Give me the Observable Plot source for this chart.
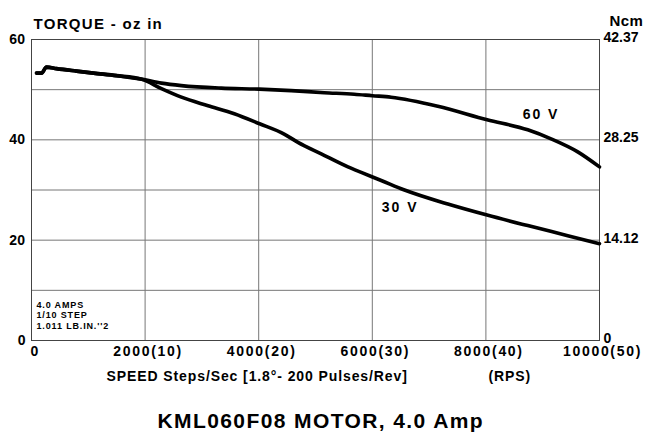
<!DOCTYPE html>
<html>
<head>
<meta charset="utf-8">
<script src="https://cdn.jsdelivr.net/npm/d3@7"></script>
<script src="https://cdn.jsdelivr.net/npm/@observablehq/plot@0.6"></script>
<style>
  html, body { margin: 0; padding: 0; background: #fff; }
</style>
</head>
<body>
<div id="chart"></div>
<script>
// ---- data ----
const speed60 = [88, 176, 264, 440, 792, 1090, 1495, 1935, 2287, 2639, 3342, 4010, 4573, 5154, 5682, 6000, 6330, 7154, 8021, 8737, 9147, 9617, 10000];
const torque60 = [53.3, 53.3, 54.5, 54.2, 53.7, 53.3, 52.8, 52.1, 51.3, 50.8, 50.3, 50.1, 49.8, 49.4, 49.1, 48.8, 48.5, 46.7, 44.0, 42.0, 40.2, 37.6, 34.6];
const speed30 = [88, 176, 264, 440, 792, 1090, 1495, 1935, 2287, 2639, 3108, 3571, 4016, 4456, 4691, 5101, 5571, 5805, 6157, 6567, 7330, 8021, 8737, 9441, 10000];
const torque30 = [53.3, 53.3, 54.5, 54.2, 53.7, 53.3, 52.8, 52.1, 50.2, 48.5, 46.8, 45.2, 43.2, 41.1, 39.5, 37.2, 34.6, 33.5, 31.9, 30.0, 27.2, 25.0, 22.9, 20.9, 19.3];

const seriesNames = ["60 V", "30 V"];
const labelSpeed = [8971, 6491];
const labelTorque = [45.0, 26.5];

const yTicks = [0, 20, 40, 60];
const ncmLabels = ["0", "14.12", "28.25", "42.37"];
const xTicks = [0, 2000, 4000, 6000, 8000, 10000];
const xTickLabels = ["0", "2000(10)", "4000(20)", "6000(30)", "8000(40)", "10000(50)"];
const xGrid = [2000, 4000, 6000, 8000];
const yGrid = [10, 20, 30, 40, 50];

const titleText = "TORQUE - oz in";
const rightUnit = "Ncm";
const xTitle = "SPEED Steps/Sec [1.8°- 200 Pulses/Rev]";
const xUnit = "(RPS)";
const insetText = "4.0 AMPS\n1/10 STEP\n1.011 LB.IN.''2";
const caption = "KML060F08 MOTOR, 4.0 Amp";

// ---- build tables ----
const rows60 = speed60.map((s, i) => ({speed: s, torque: torque60[i]}));
const rows30 = speed30.map((s, i) => ({speed: s, torque: torque30[i]}));
const labels = seriesNames.map((n, i) => ({name: n, speed: labelSpeed[i], torque: labelTorque[i]}));

const font = "'Liberation Sans', Arial, Helvetica, sans-serif";

const chart = Plot.plot({
  width: 655,
  height: 435,
  marginTop: 39,
  marginRight: 56,
  marginBottom: 95,
  marginLeft: 31,
  style: {fontFamily: font, fontWeight: "bold", color: "#000", background: "#fff"},
  x: {domain: [0, 10000], axis: null},
  y: {domain: [0, 60], axis: null},
  marks: [
    Plot.gridY(yGrid, {stroke: "#777", strokeOpacity: 1, strokeWidth: 1}),
    Plot.gridX(xGrid, {stroke: "#777", strokeOpacity: 1, strokeWidth: 1}),
    Plot.frame({stroke: "#444", strokeWidth: 1}),
    Plot.line(rows60, {x: "speed", y: "torque", stroke: "#000", strokeWidth: 3.6, curve: "monotone-x"}),
    Plot.line(rows30, {x: "speed", y: "torque", stroke: "#000", strokeWidth: 3.6, curve: "monotone-x"}),
    Plot.axisY(yTicks, {anchor: "left", tickSize: 0, tickPadding: 6, fontSize: 14, label: null}),
    Plot.axisY(yTicks, {anchor: "right", tickSize: 0, tickPadding: 4, fontSize: 14, label: null, dy: -2,
      tickFormat: (d) => ncmLabels[yTicks.indexOf(d)]}),
    Plot.axisX(xTicks, {anchor: "bottom", tickSize: 0, tickPadding: 6, fontSize: 14, label: null, dx: 3,
      tickFormat: (d) => xTickLabels[xTicks.indexOf(d)]}),
    Plot.text(labels, {x: "speed", y: "torque", text: "name", fontSize: 14}),
    Plot.text([titleText], {frameAnchor: "top-left", textAnchor: "start", lineAnchor: "bottom", dx: 2, dy: -11, fontSize: 15}),
    Plot.text([rightUnit], {frameAnchor: "top-right", textAnchor: "start", lineAnchor: "bottom", dx: 10, dy: -14, fontSize: 15}),
    Plot.text([xTitle], {frameAnchor: "bottom-left", textAnchor: "start", lineAnchor: "bottom", dx: 75, dy: 40, fontSize: 14}),
    Plot.text([xUnit], {frameAnchor: "bottom-left", textAnchor: "start", lineAnchor: "bottom", dx: 457, dy: 40, fontSize: 14}),
    Plot.text([insetText], {frameAnchor: "bottom-left", textAnchor: "start", lineAnchor: "bottom", dx: 5, dy: -12, fontSize: 9, lineHeight: 1.12}),
    Plot.text([caption], {frameAnchor: "bottom-left", textAnchor: "start", lineAnchor: "bottom", dx: 126, dy: 87, fontSize: 21})
  ]
});

// letter spacing per text group, matched by content
const spacing = new Map([
  ...xTickLabels.map((t) => [t, 1.7]),
  ...ncmLabels.map((t) => [t, 0]),
  ...seriesNames.map((t) => [t, 2]),
  [titleText, 1.3], [rightUnit, 0.4], [xTitle, 0.9], [xUnit, 0.9], [caption, 1.4]
]);
d3.select(chart).selectAll("text").each(function () {
  const el = d3.select(this);
  const t = this.textContent;
  let s = spacing.get(t);
  if (s === undefined && el.selectAll("tspan").size() > 1) s = 0.85;
  if (s === undefined) s = 0.4;
  el.attr("letter-spacing", s + "px").style("letter-spacing", s + "px");
});
document.getElementById("chart").appendChild(chart);
</script>
</body>
</html>
